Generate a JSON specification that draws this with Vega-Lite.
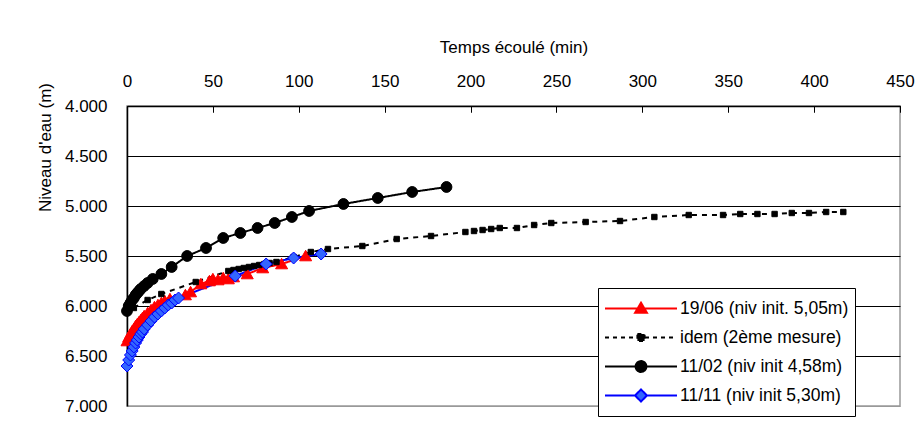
{
  "$schema": "https://vega.github.io/schema/vega-lite/v6.json",
  "width": 773,
  "height": 300,
  "autosize": {"type": "none"},
  "padding": {"left": 127, "top": 106, "right": 24, "bottom": 23},
  "background": "white",
  "config": {
    "font": "Liberation Sans",
    "view": {"stroke": "#999999", "strokeWidth": 1.5},
    "axis": {
      "labelFont": "Liberation Sans",
      "titleFont": "Liberation Sans",
      "labelColor": "black",
      "titleColor": "black",
      "titleFontWeight": "normal",
      "labelFontSize": 17,
      "titleFontSize": 17,
      "domainColor": "black",
      "tickColor": "black"
    },
    "legend": {
      "labelFont": "Liberation Sans",
      "labelFontSize": 17.5,
      "labelColor": "black",
      "strokeColor": "black",
      "fillColor": "white",
      "padding": 6,
      "rowPadding": 0,
      "clipHeight": 29,
      "symbolOffset": 0,
      "labelOffset": 2,
      "labelLimit": 400,
      "symbolSize": 5184,
      "symbolStrokeWidth": 2
    }
  },
  "datasets": {
    "d": [
      {"s": "19/06 (niv init. 5,05m)", "t": 0, "h": 6.35},
      {"s": "19/06 (niv init. 5,05m)", "t": 1, "h": 6.31},
      {"s": "19/06 (niv init. 5,05m)", "t": 2, "h": 6.28},
      {"s": "19/06 (niv init. 5,05m)", "t": 3, "h": 6.25},
      {"s": "19/06 (niv init. 5,05m)", "t": 4, "h": 6.23},
      {"s": "19/06 (niv init. 5,05m)", "t": 5, "h": 6.20},
      {"s": "19/06 (niv init. 5,05m)", "t": 6, "h": 6.18},
      {"s": "19/06 (niv init. 5,05m)", "t": 7, "h": 6.16},
      {"s": "19/06 (niv init. 5,05m)", "t": 8, "h": 6.14},
      {"s": "19/06 (niv init. 5,05m)", "t": 9, "h": 6.12},
      {"s": "19/06 (niv init. 5,05m)", "t": 10, "h": 6.10},
      {"s": "19/06 (niv init. 5,05m)", "t": 12, "h": 6.07},
      {"s": "19/06 (niv init. 5,05m)", "t": 14, "h": 6.04},
      {"s": "19/06 (niv init. 5,05m)", "t": 16, "h": 6.01},
      {"s": "19/06 (niv init. 5,05m)", "t": 18, "h": 5.99},
      {"s": "19/06 (niv init. 5,05m)", "t": 20, "h": 5.97},
      {"s": "19/06 (niv init. 5,05m)", "t": 22, "h": 5.95},
      {"s": "19/06 (niv init. 5,05m)", "t": 25, "h": 5.93},
      {"s": "19/06 (niv init. 5,05m)", "t": 34, "h": 5.89},
      {"s": "19/06 (niv init. 5,05m)", "t": 37, "h": 5.86},
      {"s": "19/06 (niv init. 5,05m)", "t": 43, "h": 5.78},
      {"s": "19/06 (niv init. 5,05m)", "t": 48, "h": 5.75},
      {"s": "19/06 (niv init. 5,05m)", "t": 50, "h": 5.73},
      {"s": "19/06 (niv init. 5,05m)", "t": 53, "h": 5.74},
      {"s": "19/06 (niv init. 5,05m)", "t": 56, "h": 5.72},
      {"s": "19/06 (niv init. 5,05m)", "t": 59, "h": 5.73},
      {"s": "19/06 (niv init. 5,05m)", "t": 62, "h": 5.71},
      {"s": "19/06 (niv init. 5,05m)", "t": 70, "h": 5.68},
      {"s": "19/06 (niv init. 5,05m)", "t": 79, "h": 5.62},
      {"s": "19/06 (niv init. 5,05m)", "t": 90, "h": 5.58},
      {"s": "19/06 (niv init. 5,05m)", "t": 104, "h": 5.50},
      {"s": "idem (2ème mesure)", "t": 4, "h": 6.02},
      {"s": "idem (2ème mesure)", "t": 12, "h": 5.94},
      {"s": "idem (2ème mesure)", "t": 20, "h": 5.88},
      {"s": "idem (2ème mesure)", "t": 40, "h": 5.76},
      {"s": "idem (2ème mesure)", "t": 59, "h": 5.65},
      {"s": "idem (2ème mesure)", "t": 62, "h": 5.64},
      {"s": "idem (2ème mesure)", "t": 65, "h": 5.63},
      {"s": "idem (2ème mesure)", "t": 68, "h": 5.62},
      {"s": "idem (2ème mesure)", "t": 71, "h": 5.61},
      {"s": "idem (2ème mesure)", "t": 74, "h": 5.60},
      {"s": "idem (2ème mesure)", "t": 77, "h": 5.59},
      {"s": "idem (2ème mesure)", "t": 80, "h": 5.58},
      {"s": "idem (2ème mesure)", "t": 83, "h": 5.57},
      {"s": "idem (2ème mesure)", "t": 87, "h": 5.56},
      {"s": "idem (2ème mesure)", "t": 97, "h": 5.51},
      {"s": "idem (2ème mesure)", "t": 107, "h": 5.46},
      {"s": "idem (2ème mesure)", "t": 117, "h": 5.43},
      {"s": "idem (2ème mesure)", "t": 137, "h": 5.40},
      {"s": "idem (2ème mesure)", "t": 157, "h": 5.33},
      {"s": "idem (2ème mesure)", "t": 177, "h": 5.30},
      {"s": "idem (2ème mesure)", "t": 197, "h": 5.26},
      {"s": "idem (2ème mesure)", "t": 202, "h": 5.25},
      {"s": "idem (2ème mesure)", "t": 207, "h": 5.24},
      {"s": "idem (2ème mesure)", "t": 212, "h": 5.23},
      {"s": "idem (2ème mesure)", "t": 217, "h": 5.22},
      {"s": "idem (2ème mesure)", "t": 227, "h": 5.22},
      {"s": "idem (2ème mesure)", "t": 237, "h": 5.19},
      {"s": "idem (2ème mesure)", "t": 247, "h": 5.17},
      {"s": "idem (2ème mesure)", "t": 267, "h": 5.16},
      {"s": "idem (2ème mesure)", "t": 287, "h": 5.15},
      {"s": "idem (2ème mesure)", "t": 307, "h": 5.11},
      {"s": "idem (2ème mesure)", "t": 327, "h": 5.09},
      {"s": "idem (2ème mesure)", "t": 347, "h": 5.09},
      {"s": "idem (2ème mesure)", "t": 357, "h": 5.08},
      {"s": "idem (2ème mesure)", "t": 367, "h": 5.08},
      {"s": "idem (2ème mesure)", "t": 377, "h": 5.08},
      {"s": "idem (2ème mesure)", "t": 387, "h": 5.07},
      {"s": "idem (2ème mesure)", "t": 397, "h": 5.07},
      {"s": "idem (2ème mesure)", "t": 407, "h": 5.06},
      {"s": "idem (2ème mesure)", "t": 417, "h": 5.06},
      {"s": "11/02 (niv init 4,58m)", "t": 0, "h": 6.05},
      {"s": "11/02 (niv init 4,58m)", "t": 1, "h": 6.00},
      {"s": "11/02 (niv init 4,58m)", "t": 2, "h": 5.97},
      {"s": "11/02 (niv init 4,58m)", "t": 3, "h": 5.94},
      {"s": "11/02 (niv init 4,58m)", "t": 4, "h": 5.92},
      {"s": "11/02 (niv init 4,58m)", "t": 5, "h": 5.89},
      {"s": "11/02 (niv init 4,58m)", "t": 6, "h": 5.87},
      {"s": "11/02 (niv init 4,58m)", "t": 7, "h": 5.85},
      {"s": "11/02 (niv init 4,58m)", "t": 8, "h": 5.83},
      {"s": "11/02 (niv init 4,58m)", "t": 10, "h": 5.80},
      {"s": "11/02 (niv init 4,58m)", "t": 12, "h": 5.77},
      {"s": "11/02 (niv init 4,58m)", "t": 15, "h": 5.73},
      {"s": "11/02 (niv init 4,58m)", "t": 20, "h": 5.68},
      {"s": "11/02 (niv init 4,58m)", "t": 26, "h": 5.61},
      {"s": "11/02 (niv init 4,58m)", "t": 35, "h": 5.50},
      {"s": "11/02 (niv init 4,58m)", "t": 46, "h": 5.42},
      {"s": "11/02 (niv init 4,58m)", "t": 56, "h": 5.32},
      {"s": "11/02 (niv init 4,58m)", "t": 66, "h": 5.27},
      {"s": "11/02 (niv init 4,58m)", "t": 76, "h": 5.22},
      {"s": "11/02 (niv init 4,58m)", "t": 86, "h": 5.17},
      {"s": "11/02 (niv init 4,58m)", "t": 96, "h": 5.11},
      {"s": "11/02 (niv init 4,58m)", "t": 106, "h": 5.05},
      {"s": "11/02 (niv init 4,58m)", "t": 126, "h": 4.98},
      {"s": "11/02 (niv init 4,58m)", "t": 146, "h": 4.92},
      {"s": "11/02 (niv init 4,58m)", "t": 166, "h": 4.86},
      {"s": "11/02 (niv init 4,58m)", "t": 186, "h": 4.81},
      {"s": "11/11 (niv init 5,30m)", "t": 0, "h": 6.60},
      {"s": "11/11 (niv init 5,30m)", "t": 1, "h": 6.54},
      {"s": "11/11 (niv init 5,30m)", "t": 2, "h": 6.49},
      {"s": "11/11 (niv init 5,30m)", "t": 3, "h": 6.45},
      {"s": "11/11 (niv init 5,30m)", "t": 4, "h": 6.41},
      {"s": "11/11 (niv init 5,30m)", "t": 5, "h": 6.37},
      {"s": "11/11 (niv init 5,30m)", "t": 6, "h": 6.34},
      {"s": "11/11 (niv init 5,30m)", "t": 7, "h": 6.31},
      {"s": "11/11 (niv init 5,30m)", "t": 8, "h": 6.28},
      {"s": "11/11 (niv init 5,30m)", "t": 9, "h": 6.26},
      {"s": "11/11 (niv init 5,30m)", "t": 10, "h": 6.23},
      {"s": "11/11 (niv init 5,30m)", "t": 12, "h": 6.19},
      {"s": "11/11 (niv init 5,30m)", "t": 14, "h": 6.15},
      {"s": "11/11 (niv init 5,30m)", "t": 16, "h": 6.11},
      {"s": "11/11 (niv init 5,30m)", "t": 18, "h": 6.08},
      {"s": "11/11 (niv init 5,30m)", "t": 20, "h": 6.05},
      {"s": "11/11 (niv init 5,30m)", "t": 22, "h": 6.02},
      {"s": "11/11 (niv init 5,30m)", "t": 24, "h": 5.99},
      {"s": "11/11 (niv init 5,30m)", "t": 26, "h": 5.97},
      {"s": "11/11 (niv init 5,30m)", "t": 28, "h": 5.94},
      {"s": "11/11 (niv init 5,30m)", "t": 30, "h": 5.92},
      {"s": "11/11 (niv init 5,30m)", "t": 63, "h": 5.70},
      {"s": "11/11 (niv init 5,30m)", "t": 81, "h": 5.58},
      {"s": "11/11 (niv init 5,30m)", "t": 97, "h": 5.52},
      {"s": "11/11 (niv init 5,30m)", "t": 113, "h": 5.48}
    ]
  },
  "data": {"name": "d"},
  "encoding": {
    "x": {
      "field": "t", "type": "quantitative",
      "scale": {"domain": [0, 450], "nice": false, "zero": false},
      "axis": {
        "orient": "top",
        "values": [0, 50, 100, 150, 200, 250, 300, 350, 400, 450],
        "title": "Temps écoulé (min)",
        "grid": true,
        "gridColor": "black",
        "gridWidth": 1,
        "gridOpacity": 1,
        "gridDash": [6, 1000],
        "tickSize": -6,
        "tickWidth": 1,
        "labelPadding": 22,
        "domainWidth": 1.5,
        "titleY": -59,
        "titleBaseline": "middle",
        "labelFlush": false,
        "labelOverlap": false
      }
    },
    "y": {
      "field": "h", "type": "quantitative",
      "scale": {"domain": [4, 7], "reverse": true, "nice": false, "zero": false},
      "axis": {
        "values": [4, 4.5, 5, 5.5, 6, 6.5, 7],
        "format": ".3f",
        "ticks": false,
        "labelPadding": 20,
        "domainWidth": 1.5,
        "grid": true,
        "gridColor": {"condition": {"test": "datum.value == 7", "value": "#999999"}, "value": "black"},
        "gridWidth": 1,
        "gridOpacity": 1,
        "title": "Niveau d'eau (m)",
        "titleX": -82,
        "titleY": 41,
        "titleAngle": -90,
        "titleAlign": "center",
        "titleBaseline": "middle",
        "labelOverlap": false
      }
    }
  },
  "layer": [
    {
      "mark": {"type": "line", "strokeWidth": 2},
      "encoding": {
        "stroke": {
          "field": "s", "type": "nominal",
          "scale": {
            "domain": ["19/06 (niv init. 5,05m)", "idem (2ème mesure)", "11/02 (niv init 4,58m)", "11/11 (niv init 5,30m)"],
            "range": ["#ff0000", "#000000", "#000000", "#0000ff"]
          },
          "legend": null
        },
        "strokeDash": {
          "field": "s", "type": "nominal",
          "scale": {
            "domain": ["19/06 (niv init. 5,05m)", "idem (2ème mesure)", "11/02 (niv init 4,58m)", "11/11 (niv init 5,30m)"],
            "range": [[1, 0], [5, 5], [1, 0], [1, 0]]
          },
          "legend": null
        }
      }
    },
    {
      "mark": {"type": "point", "filled": true, "opacity": 1, "size": 144, "strokeWidth": 1},
      "encoding": {
        "shape": {
          "field": "s", "type": "nominal",
          "scale": {
            "domain": ["19/06 (niv init. 5,05m)", "idem (2ème mesure)", "11/02 (niv init 4,58m)", "11/11 (niv init 5,30m)"],
            "range": ["M0,-0.95L1,0.8L-1,0.8Z", "M-0.45,-0.45H0.45V0.45H-0.45Z", "M-0.9,0A0.9,0.9,0,1,0,0.9,0A0.9,0.9,0,1,0,-0.9,0Z", "diamond"]
          },
          "legend": null
        },
        "fill": {
          "field": "s", "type": "nominal",
          "scale": {
            "domain": ["19/06 (niv init. 5,05m)", "idem (2ème mesure)", "11/02 (niv init 4,58m)", "11/11 (niv init 5,30m)"],
            "range": ["#ff0000", "#000000", "#000000", "#3366ff"]
          },
          "legend": null
        },
        "stroke": {
          "field": "s", "type": "nominal",
          "scale": {
            "domain": ["19/06 (niv init. 5,05m)", "idem (2ème mesure)", "11/02 (niv init 4,58m)", "11/11 (niv init 5,30m)"],
            "range": ["#ff0000", "#000000", "#000000", "#0000ff"]
          },
          "legend": null
        }
      }
    },
    {
      "transform": [{"filter": "datum.t < 0"}],
      "mark": {"type": "point", "filled": true, "opacity": 1, "size": 5184, "strokeWidth": 2},
      "encoding": {
        "shape": {
          "field": "s", "type": "nominal",
          "scale": {
            "domain": ["19/06 (niv init. 5,05m)", "idem (2ème mesure)", "11/02 (niv init 4,58m)", "11/11 (niv init 5,30m)"],
            "range": [
              "M-1,0H1M0,-0.16L0.165,0.12L-0.165,0.12Z",
              "M-1,0H1M-0.1,-0.1H0.1V0.1H-0.1Z",
              "M-1,0H1M-0.15,0A0.15,0.15,0,1,0,0.15,0A0.15,0.15,0,1,0,-0.15,0Z",
              "M-1,0H-0.167M0.167,0H1M0,-0.167L0.167,0L0,0.167L-0.167,0Z"
            ]
          },
          "legend": {"orient": "none", "legendX": 471, "legendY": 182, "title": null, "labelExpr": "datum.label + '          '"}
        },
        "fill": {
          "field": "s", "type": "nominal",
          "scale": {
            "domain": ["19/06 (niv init. 5,05m)", "idem (2ème mesure)", "11/02 (niv init 4,58m)", "11/11 (niv init 5,30m)"],
            "range": ["#ff0000", "#000000", "#000000", "#3366ff"]
          },
          "legend": {"orient": "none", "legendX": 471, "legendY": 182, "title": null, "labelExpr": "datum.label + '          '"}
        },
        "stroke": {
          "field": "s", "type": "nominal",
          "scale": {
            "domain": ["19/06 (niv init. 5,05m)", "idem (2ème mesure)", "11/02 (niv init 4,58m)", "11/11 (niv init 5,30m)"],
            "range": ["#ff0000", "#000000", "#000000", "#0000ff"]
          },
          "legend": {"orient": "none", "legendX": 471, "legendY": 182, "title": null, "labelExpr": "datum.label + '          '"}
        },
        "strokeDash": {
          "field": "s", "type": "nominal",
          "scale": {
            "domain": ["19/06 (niv init. 5,05m)", "idem (2ème mesure)", "11/02 (niv init 4,58m)", "11/11 (niv init 5,30m)"],
            "range": [[1, 0], [4, 4], [1, 0], [1, 0]]
          },
          "legend": {"orient": "none", "legendX": 471, "legendY": 182, "title": null, "labelExpr": "datum.label + '          '"}
        }
      }
    }
  ],
  "resolve": {"scale": {"shape": "independent", "fill": "independent", "stroke": "independent", "strokeDash": "independent"}}
}
